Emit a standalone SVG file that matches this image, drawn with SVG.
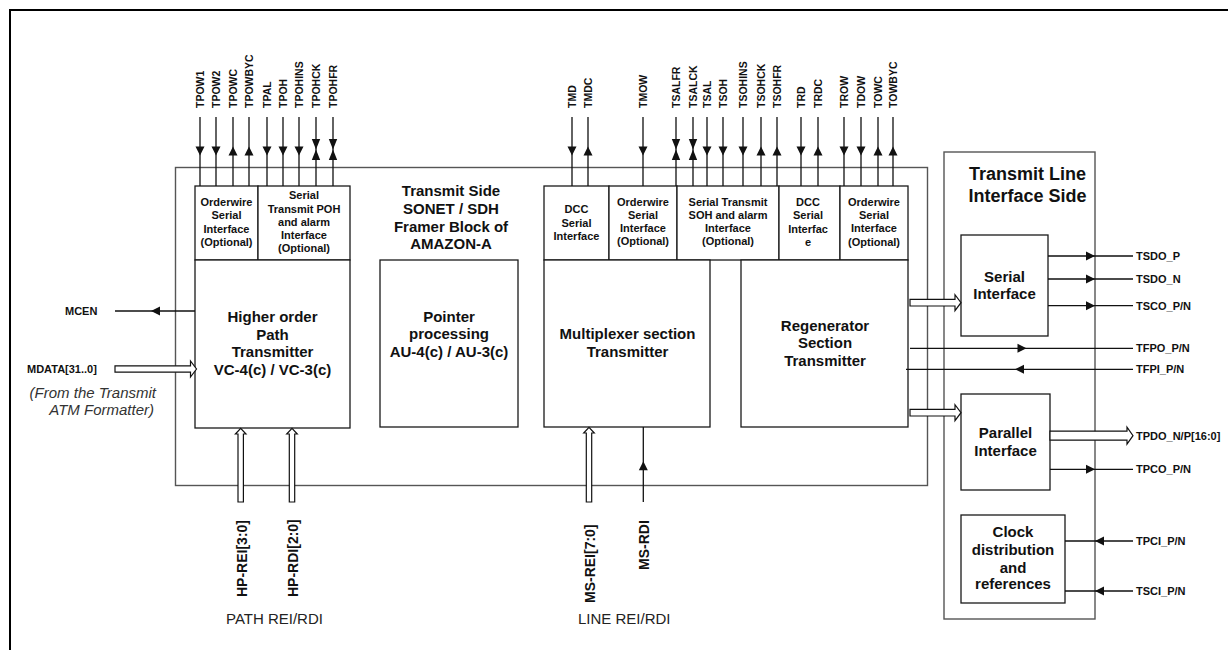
<svg xmlns="http://www.w3.org/2000/svg" xmlns:xlink="http://www.w3.org/1999/xlink" width="1228" height="650" viewBox="0 0 1228 650">
<style>
text{font-family:"Liberation Sans",Arial,sans-serif;fill:#111}
.blk{fill:#fff;stroke:#1a1a1a;stroke-width:1.3}
.frm{fill:none;stroke:#555;stroke-width:1.4}
.sub{font-size:11px;font-weight:bold;text-anchor:middle}
.main{font-size:15px;font-weight:bold;text-anchor:middle}
.sig{font-size:10.5px;font-weight:bold}
.rsig{font-size:11px;font-weight:bold}
.bsig{font-size:14px;font-weight:bold}
.ln{stroke:#111;stroke-width:1.3;fill:none}
.ah{fill:#111;stroke:none}
.ho{fill:#fff;stroke:#111;stroke-width:1.2}
</style>
<defs>
<path id="ad" d="M-4.5,-4.5 L4.5,-4.5 L0,4.5 Z"/>
<path id="au" d="M-4.5,4.5 L4.5,4.5 L0,-4.5 Z"/>
<path id="ab" d="M-4.2,-10.5 L4.2,-10.5 L0,0 Z M0,0 L4.2,10.5 L-4.2,10.5 Z"/>
<path id="ar" d="M-9,-4.5 L0,0 L-9,4.5 Z"/>
<path id="al" d="M9,-4.5 L0,0 L9,4.5 Z"/>
</defs>
<rect width="1228" height="650" fill="#fff"/>
<path d="M10,650 L10,10 L1228,10" fill="none" stroke="#000" stroke-width="2"/>

<g id="framer-frame">
<rect class="frm" x="175.5" y="167.5" width="752" height="318"/>
<text class="main" x="451" y="196">Transmit Side</text>
<text class="main" x="451" y="213.5">SONET / SDH</text>
<text class="main" x="451" y="231.5">Framer Block of</text>
<text class="main" x="451" y="249.3">AMAZON-A</text>
</g>

<g id="hop-orderwire">
<rect class="blk" x="195" y="186" width="63" height="74"/>
<text class="sub" x="226.5" y="206">Orderwire</text>
<text class="sub" x="226.5" y="219.3">Serial</text>
<text class="sub" x="226.5" y="232.5">Interface</text>
<text class="sub" x="226.5" y="245.7">(Optional)</text>
</g>
<g id="hop-poh">
<rect class="blk" x="258" y="186" width="92" height="74"/>
<text class="sub" x="304" y="199.3">Serial</text>
<text class="sub" x="304" y="212.5">Transmit POH</text>
<text class="sub" x="304" y="225.5">and alarm</text>
<text class="sub" x="304" y="238.5">Interface</text>
<text class="sub" x="304" y="251.7">(Optional)</text>
</g>
<g id="hop">
<rect class="blk" x="195" y="260" width="155" height="168"/>
<text class="main" x="272.5" y="322">Higher order</text>
<text class="main" x="272.5" y="339.7">Path</text>
<text class="main" x="272.5" y="357.3">Transmitter</text>
<text class="main" x="272.5" y="375">VC-4(c) / VC-3(c)</text>
</g>
<g id="pointer">
<rect class="blk" x="380" y="260" width="138" height="167"/>
<text class="main" x="449" y="321.7">Pointer</text>
<text class="main" x="449" y="339.2">processing</text>
<text class="main" x="449" y="356.7">AU-4(c) / AU-3(c)</text>
</g>
<g id="ms-dcc">
<rect class="blk" x="544" y="186" width="65" height="74"/>
<text class="sub" x="576.5" y="213.3">DCC</text>
<text class="sub" x="576.5" y="226.7">Serial</text>
<text class="sub" x="576.5" y="240">Interface</text>
</g>
<g id="ms-orderwire">
<rect class="blk" x="609" y="186" width="68" height="74"/>
<text class="sub" x="643" y="205.5">Orderwire</text>
<text class="sub" x="643" y="218.7">Serial</text>
<text class="sub" x="643" y="232">Interface</text>
<text class="sub" x="643" y="245.3">(Optional)</text>
</g>
<g id="soh">
<rect class="blk" x="677" y="186" width="102" height="74"/>
<text class="sub" x="728" y="205.7">Serial Transmit</text>
<text class="sub" x="728" y="219">SOH and alarm</text>
<text class="sub" x="728" y="232">Interface</text>
<text class="sub" x="728" y="245.3">(Optional)</text>
</g>
<g id="rs-dcc">
<rect class="blk" x="779" y="186" width="61" height="74"/>
<text class="sub" x="808" y="205.7">DCC</text>
<text class="sub" x="808" y="219">Serial</text>
<text class="sub" x="808" y="232.7">Interfac</text>
<text class="sub" x="808" y="246">e</text>
</g>
<g id="rs-orderwire">
<rect class="blk" x="840" y="186" width="68" height="74"/>
<text class="sub" x="874" y="205.7">Orderwire</text>
<text class="sub" x="874" y="219">Serial</text>
<text class="sub" x="874" y="232.3">Interface</text>
<text class="sub" x="874" y="245.5">(Optional)</text>
</g>
<g id="mux">
<rect class="blk" x="544" y="260" width="166" height="167"/>
<text class="main" x="627.5" y="339">Multiplexer section</text>
<text class="main" x="627.5" y="356.7">Transmitter</text>
</g>
<g id="regen">
<rect class="blk" x="741" y="260" width="167" height="167"/>
<text class="main" x="825" y="331">Regenerator</text>
<text class="main" x="825" y="348.3">Section</text>
<text class="main" x="825" y="365.7">Transmitter</text>
</g>

<g id="line-side">
<rect class="frm" x="944" y="152" width="151" height="467"/>
<text x="1027.5" y="179.5" font-size="18" font-weight="bold" text-anchor="middle">Transmit Line</text>
<text x="1027.5" y="202" font-size="18" font-weight="bold" text-anchor="middle">Interface Side</text>
</g>
<g id="serial-if">
<rect class="blk" x="961" y="235" width="87" height="101"/>
<text class="main" x="1004.5" y="281.7">Serial</text>
<text class="main" x="1004.5" y="299.3">Interface</text>
</g>
<g id="parallel-if">
<rect class="blk" x="961" y="394" width="89" height="96"/>
<text class="main" x="1005.5" y="438.3">Parallel</text>
<text class="main" x="1005.5" y="455.7">Interface</text>
</g>
<g id="clock">
<rect class="blk" x="961" y="515" width="104" height="88"/>
<text class="main" x="1013" y="536.7">Clock</text>
<text class="main" x="1013" y="555">distribution</text>
<text class="main" x="1013" y="572.7">and</text>
<text class="main" x="1013" y="589.3">references</text>
</g>

<g id="connectors">
<g class="ln">
<path d="M200,117V186M216,117V186M233,117V186M249,117V186M267,117V186M283,117V186M299,117V186M316,117V186M333,117V186"/>
<path d="M572,117V186M588,117V186M643,117V186M676,117V186M693,117V186M707,117V186M723,117V186M743,117V186M761,117V186M777,117V186M801,117V186M818,117V186M844,117V186M861,117V186M878,117V186M893,117V186"/>
</g>
<g class="ah">
<use xlink:href="#ad" x="200" y="151"/>
<use xlink:href="#ad" x="216" y="151"/>
<use xlink:href="#au" x="233" y="151"/>
<use xlink:href="#au" x="249" y="151"/>
<use xlink:href="#ad" x="267" y="151"/>
<use xlink:href="#ad" x="283" y="151"/>
<use xlink:href="#ad" x="299" y="151"/>
<use xlink:href="#ab" x="316" y="149.5"/>
<use xlink:href="#ab" x="333" y="149.5"/>
<use xlink:href="#ad" x="572" y="151"/>
<use xlink:href="#au" x="588" y="151"/>
<use xlink:href="#ad" x="643" y="151"/>
<use xlink:href="#ab" x="676" y="149.5"/>
<use xlink:href="#ab" x="693" y="149.5"/>
<use xlink:href="#ad" x="707" y="151"/>
<use xlink:href="#ad" x="723" y="151"/>
<use xlink:href="#ad" x="743" y="151"/>
<use xlink:href="#au" x="761" y="151"/>
<use xlink:href="#au" x="777" y="151"/>
<use xlink:href="#ad" x="801" y="151"/>
<use xlink:href="#au" x="818" y="151"/>
<use xlink:href="#ad" x="844" y="151"/>
<use xlink:href="#ad" x="861" y="151"/>
<use xlink:href="#au" x="878" y="151"/>
<use xlink:href="#au" x="893" y="151"/>
</g>
<path class="ln" d="M115,311H195"/>
<use class="ah" xlink:href="#al" x="151" y="311"/>
<path class="ho" d="M115,365.8H190.5V361L196.5,369L190.5,377V372.2H115Z"/>
<path class="ho" d="M910,299.4H955V294.7L961,302.7L955,310.7V306H910Z"/>
<path class="ho" d="M910,409.4H955V404.7L961,412.7L955,420.7V416H910Z"/>
<path class="ho" d="M1050,431.2H1127V427.2L1133,435.7L1127,444.2V440.2H1050Z"/>
<path class="ln" d="M1048,256H1133M1048,279H1133M1048,305.7H1133M910,348.3H1133M906,369.3H1133M1050,469.3H1133M1065,541H1133M1065,591H1133"/>
<use class="ah" xlink:href="#ar" x="1095" y="256"/>
<use class="ah" xlink:href="#ar" x="1095" y="279"/>
<use class="ah" xlink:href="#ar" x="1095" y="305.7"/>
<use class="ah" xlink:href="#ar" x="1026.5" y="348.3"/>
<use class="ah" xlink:href="#al" x="1015" y="369.3"/>
<use class="ah" xlink:href="#ar" x="1095" y="469.3"/>
<use class="ah" xlink:href="#al" x="1095" y="541"/>
<use class="ah" xlink:href="#al" x="1095" y="591"/>
<path class="ho" d="M238,502V434H235.4L240.7,428.3L246,434H243.4V502Z"/>
<path class="ho" d="M289.3,502V434H286.7L292,428.3L297.3,434H294.7V502Z"/>
<path class="ho" d="M586.3,502V433H583.7L589,427.3L594.3,433H591.7V502Z"/>
<path class="ln" d="M643.3,427V502"/>
<use class="ah" xlink:href="#au" x="643.3" y="465.7"/>
</g>

<g id="labels">
<g class="sig">
<text x="204" y="108" transform="rotate(-90 204 108)">TPOW1</text>
<text x="220" y="108" transform="rotate(-90 220 108)">TPOW2</text>
<text x="237" y="108" transform="rotate(-90 237 108)">TPOWC</text>
<text x="253" y="108" transform="rotate(-90 253 108)">TPOWBYC</text>
<text x="271" y="108" transform="rotate(-90 271 108)">TPAL</text>
<text x="287" y="108" transform="rotate(-90 287 108)">TPOH</text>
<text x="303" y="108" transform="rotate(-90 303 108)">TPOHINS</text>
<text x="320" y="108" transform="rotate(-90 320 108)">TPOHCK</text>
<text x="337" y="108" transform="rotate(-90 337 108)">TPOHFR</text>
<text x="576" y="108" transform="rotate(-90 576 108)">TMD</text>
<text x="592" y="108" transform="rotate(-90 592 108)">TMDC</text>
<text x="647" y="108" transform="rotate(-90 647 108)">TMOW</text>
<text x="680" y="108" transform="rotate(-90 680 108)">TSALFR</text>
<text x="697" y="108" transform="rotate(-90 697 108)">TSALCK</text>
<text x="711" y="108" transform="rotate(-90 711 108)">TSAL</text>
<text x="727" y="108" transform="rotate(-90 727 108)">TSOH</text>
<text x="747" y="108" transform="rotate(-90 747 108)">TSOHINS</text>
<text x="765" y="108" transform="rotate(-90 765 108)">TSOHCK</text>
<text x="781" y="108" transform="rotate(-90 781 108)">TSOHFR</text>
<text x="805" y="108" transform="rotate(-90 805 108)">TRD</text>
<text x="822" y="108" transform="rotate(-90 822 108)">TRDC</text>
<text x="848" y="108" transform="rotate(-90 848 108)">TROW</text>
<text x="865" y="108" transform="rotate(-90 865 108)">TDOW</text>
<text x="882" y="108" transform="rotate(-90 882 108)">TOWC</text>
<text x="897" y="108" transform="rotate(-90 897 108)">TOWBYC</text>
</g>
<g class="rsig">
<text x="65" y="315">MCEN</text>
<text x="27" y="373">MDATA[31..0]</text>
<text x="1136" y="260">TSDO_P</text>
<text x="1136" y="283">TSDO_N</text>
<text x="1136" y="309.7">TSCO_P/N</text>
<text x="1136" y="352.3">TFPO_P/N</text>
<text x="1136" y="373.3">TFPI_P/N</text>
<text x="1136" y="439.7">TPDO_N/P[16:0]</text>
<text x="1136" y="473.3">TPCO_P/N</text>
<text x="1136" y="545">TPCI_P/N</text>
<text x="1136" y="595">TSCI_P/N</text>
</g>
<text x="156" y="398" font-size="15" font-style="italic" text-anchor="end" style="fill:#333">(From the Transmit</text>
<text x="154" y="415" font-size="15" font-style="italic" text-anchor="end" style="fill:#333">ATM Formatter)</text>
<g class="bsig">
<text x="246.5" y="597" transform="rotate(-90 246.5 597)">HP-REI[3:0]</text>
<text x="297.5" y="597" transform="rotate(-90 297.5 597)">HP-RDI[2:0]</text>
<text x="594.5" y="603" transform="rotate(-90 594.5 603)">MS-REI[7:0]</text>
<text x="648.5" y="570" transform="rotate(-90 648.5 570)">MS-RDI</text>
</g>
<text x="226" y="623.5" font-size="15" style="fill:#222">PATH  REI/RDI</text>
<text x="578" y="624" font-size="15" style="fill:#222">LINE  REI/RDI</text>
</g>
</svg>
